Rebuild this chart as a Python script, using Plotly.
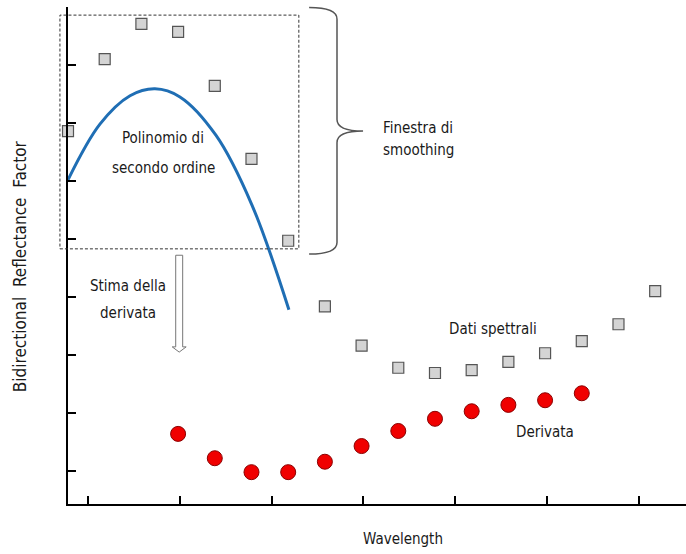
import plotly.graph_objects as go

# Spectral samples (arbitrary wavelength index vs. reflectance units)
spec_x = list(range(17))
spec_y = [6.86, 8.10, 8.71, 8.57, 7.64, 6.38, 4.97, 3.84, 3.16, 2.78,
          2.69, 2.74, 2.88, 3.03, 3.24, 3.53, 4.10]

# First-derivative estimates
deriv_x = list(range(3, 15))
deriv_y = [1.64, 1.22, 0.98, 0.98, 1.16, 1.43, 1.69, 1.90, 2.03, 2.14, 2.22, 2.34]

# Second-order polynomial fitted over the smoothing window
poly_x = [0.0, 0.87, 1.69, 2.37, 3.05, 4.03, 5.01, 6.02]
poly_y = [6.02, 6.98, 7.47, 7.59, 7.45, 6.79, 5.59, 3.78]

x_ticks = [0.55, 3.05, 5.55, 8.05, 10.55, 13.05, 15.55]
y_ticks = [1, 2, 3, 4, 5, 6, 7, 8, 9]

X_RANGE = [0.0, 16.84]
Y_RANGE = [0.431, 9.0]

FONT = "Liberation Sans Narrow, DejaVu Sans Condensed, Arial Narrow, sans-serif"
TXT = "#1a1a1a"


def px(x):
    return (x - X_RANGE[0]) / (X_RANGE[1] - X_RANGE[0])


def py(y):
    return (y - Y_RANGE[0]) / (Y_RANGE[1] - Y_RANGE[0])


def pt(x, y):
    return f"{px(x):.5f},{py(y):.5f}"


fig = go.Figure()

fig.add_trace(go.Scatter(
    x=poly_x, y=poly_y, mode="lines", line=dict(color="#1f6eb4", width=3, shape="spline"),
    hoverinfo="skip", showlegend=False,
))
fig.add_trace(go.Scatter(
    x=spec_x, y=spec_y, mode="markers", cliponaxis=False,
    marker=dict(symbol="square", size=11, color="#d4d4d4", line=dict(color="#555555", width=1.2)),
    showlegend=False,
))
fig.add_trace(go.Scatter(
    x=deriv_x, y=deriv_y, mode="markers", cliponaxis=False,
    marker=dict(symbol="circle", size=15, color="#f00000", line=dict(color="#8a0000", width=1)),
    showlegend=False,
))

shapes = []

# Dashed smoothing window
win_x0, win_x1, win_y0, win_y1 = -0.22, 6.29, 4.83, 8.86
shapes.append(dict(
    type="rect", xref="paper", yref="paper",
    x0=px(win_x0), x1=px(win_x1), y0=py(win_y0), y1=py(win_y1),
    line=dict(color="#333333", width=1, dash="3px,2px"), fillcolor="rgba(0,0,0,0)",
))

# Curly brace next to the window
bx0, bx1, btip = 6.57, 7.33, 8.04
by_top, by_mid, by_bot = 8.99, 6.86, 4.74
brace = (
    f"M {pt(bx0, by_top)} Q {pt(bx1, by_top)} {pt(bx1, by_top - 0.2)} "
    f"L {pt(bx1, by_mid + 0.2)} Q {pt(bx1, by_mid)} {pt(btip, by_mid)} "
    f"Q {pt(bx1, by_mid)} {pt(bx1, by_mid - 0.2)} "
    f"L {pt(bx1, by_bot + 0.2)} Q {pt(bx1, by_bot)} {pt(bx0, by_bot)}"
)
shapes.append(dict(type="path", xref="paper", yref="paper", path=brace,
                   line=dict(color="#555555", width=1.5)))

# Hollow arrow down to the derivative points
ax_c, shaft_h, head_h = 3.03, 0.095, 0.19
a_top, a_head, a_tip = 4.72, 3.14, 3.05
arrow = (
    f"M {pt(ax_c - shaft_h, a_top)} L {pt(ax_c + shaft_h, a_top)} "
    f"L {pt(ax_c + shaft_h, a_head)} L {pt(ax_c + head_h, a_head)} "
    f"L {pt(ax_c, a_tip)} L {pt(ax_c - head_h, a_head)} "
    f"L {pt(ax_c - shaft_h, a_head)} Z"
)
shapes.append(dict(type="path", xref="paper", yref="paper", path=arrow,
                   line=dict(color="#777777", width=1), fillcolor="white"))


def label(x, y, text, anchor="center", size=15, **kw):
    return dict(x=x, y=y, xref="x", yref="y", text=text, showarrow=False,
                xanchor=anchor, yanchor="middle",
                font=dict(family=FONT, size=size, color=TXT), **kw)


annotations = [
    label(2.59, 6.74, "Polinomio di"),
    label(2.59, 6.22, "secondo ordine"),
    label(8.53, 6.91, "Finestra di", anchor="left"),
    label(8.53, 6.53, "smoothing", anchor="left"),
    label(1.63, 4.19, "Stima della"),
    label(1.63, 3.72, "derivata"),
    label(11.58, 3.45, "Dati spettrali"),
    label(13.0, 1.67, "Derivata"),
    dict(x=px(9.13), y=-0.07, xref="paper", yref="paper", text="Wavelength",
         showarrow=False, xanchor="center", yanchor="middle",
         font=dict(family=FONT, size=15, color=TXT)),
    dict(x=px(-1.31), y=py(4.53), xref="paper", yref="paper",
         text="Bidirectional&nbsp;&nbsp;Reflectance&nbsp;&nbsp;Factor",
         showarrow=False, textangle=-90, xanchor="center", yanchor="middle",
         font=dict(family=FONT, size=17, color=TXT)),
]

fig.update_layout(
    width=686, height=554,
    margin=dict(l=68, r=0, t=7, b=50),
    paper_bgcolor="white", plot_bgcolor="white",
    shapes=shapes, annotations=annotations,
    xaxis=dict(range=X_RANGE, tickvals=x_ticks, showticklabels=False,
               ticks="inside", ticklen=8, tickwidth=2, tickcolor="black",
               showline=True, linecolor="black", linewidth=2,
               showgrid=False, zeroline=False),
    yaxis=dict(range=Y_RANGE, tickvals=y_ticks, showticklabels=False,
               ticks="inside", ticklen=8, tickwidth=2, tickcolor="black",
               showline=True, linecolor="black", linewidth=2,
               showgrid=False, zeroline=False),
)

fig.write_html("out.html")
